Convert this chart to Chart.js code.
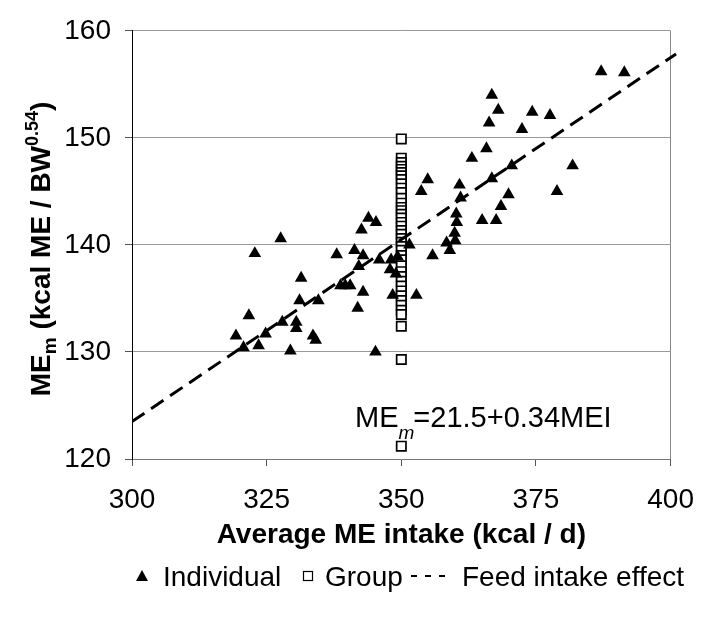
<!DOCTYPE html>
<html>
<head>
<meta charset="utf-8">
<script src="https://cdn.jsdelivr.net/npm/chart.js@4.4.1/dist/chart.umd.min.js"></script>
<style>
  html, body { margin: 0; padding: 0; background: #fff; }
  #wrap { width: 711px; height: 621px; }
</style>
</head>
<body>
<div id="wrap"><canvas id="chart" width="711" height="621"></canvas></div>
<script>
// individual animals: average ME intake (kcal/d) and ME for maintenance
const indivIntake = [
  327.6, 322.8, 338.0, 331.4, 331.1, 334.6, 321.7, 327.9, 330.5, 330.5,
  319.3, 324.8, 333.6, 334.1, 320.7, 323.5, 329.4,
  354.9, 353.7, 343.9, 345.3, 342.6, 341.3, 342.9, 345.9, 351.5, 348.1,
  347.9, 355.8, 342.1, 338.7, 339.6, 340.5, 342.9, 348.4, 352.8, 341.9,
  345.2, 349.3, 349.0,
  366.8, 368.0, 374.3, 377.6, 366.3, 372.4, 365.8, 363.1, 370.5, 381.8,
  366.8, 360.8, 361.0, 369.9, 378.9, 368.5, 360.2, 360.3, 365.0, 367.6,
  359.9, 358.4, 360.0, 359.0, 387.1, 391.4
];
const indivMEm = [
  140.6, 139.2, 139.1, 136.9, 134.8, 134.8, 133.4, 132.8, 132.8, 132.2,
  131.5, 131.7, 131.5, 131.1, 130.4, 130.6, 130.1,
  146.1, 145.0, 142.5, 142.1, 141.4, 139.5, 139.0, 138.6, 140.0, 138.6,
  137.7, 139.0, 138.0, 136.2, 136.2, 136.2, 135.6, 135.3, 135.3, 134.1,
  130.0, 138.9, 137.3,
  154.0, 152.6, 152.4, 152.1, 151.4, 150.8, 149.0, 148.1, 147.4, 147.4,
  146.2, 145.6, 144.4, 144.7, 145.0, 143.6, 142.9, 142.1, 142.3, 142.3,
  141.1, 140.2, 140.4, 139.5, 156.2, 156.1
];

// group estimates, all plotted at the mean intake
const groupIntake = 350;
const groupMEm = [
  149.9, 148.1, 147.7, 147.35, 147.05, 146.75, 146.45, 146.1, 145.7, 145.3,
  144.9, 144.35, 143.9, 143.5, 143.2, 142.85, 142.5, 142.1, 141.75, 141.35,
  141.0, 140.6, 140.25, 139.85, 139.5, 139.0, 138.6, 138.05, 137.5, 137.05,
  136.6, 136.15, 135.7, 135.25, 134.8, 134.35, 133.9, 133.5, 132.4, 129.3,
  121.2
];

// feed intake effect: MEm = 21.5 + 0.34 * MEI
const fitIntercept = 21.5;
const fitSlope = 0.34;
const fitRange = [300, 401];

const xTicks = [300, 325, 350, 375, 400];
const yTicks = [120, 130, 140, 150, 160];

const FONT = 'Arial, "Liberation Sans", sans-serif';

// draws a run of text pieces (sub/superscripts) starting at x on baseline y
function drawRich(ctx, parts, x, y) {
  let cx = x;
  parts.forEach(p => {
    ctx.font = p.font;
    ctx.fillText(p.text, cx, y + (p.dy || 0));
    cx += ctx.measureText(p.text).width + (p.kern || 0);
  });
  return cx - x;
}
function richWidth(ctx, parts) {
  return parts.reduce((s, p) => { ctx.font = p.font; return s + ctx.measureText(p.text).width + (p.kern || 0); }, 0);
}

const textPlugin = {
  id: 'textPlugin',
  afterDraw(chart) {
    const ctx = chart.ctx;
    const area = chart.chartArea;
    ctx.save();
    ctx.fillStyle = '#000';
    ctx.textBaseline = 'alphabetic';
    ctx.textAlign = 'left';

    // y axis title, rotated
    const yParts = [
      { text: 'ME', font: `bold 28px ${FONT}` },
      { text: 'm', font: `bold 19px ${FONT}`, dy: 6 },
      { text: ' (kcal ME / BW', font: `bold 28px ${FONT}` },
      { text: '0.54', font: `bold 18px ${FONT}`, dy: -12 },
      { text: ')', font: `bold 28px ${FONT}` }
    ];
    ctx.save();
    ctx.translate(50, (area.top + area.bottom) / 2 + 4);
    ctx.rotate(-Math.PI / 2);
    drawRich(ctx, yParts, -richWidth(ctx, yParts) / 2, 0);
    ctx.restore();

    // x axis title
    ctx.font = `bold 28px ${FONT}`;
    ctx.textAlign = 'center';
    ctx.fillText('Average ME intake (kcal / d)', (area.left + area.right) / 2, 543);
    ctx.textAlign = 'left';

    // regression equation
    drawRich(ctx, [
      { text: 'ME', font: `29px ${FONT}` },
      { text: 'm', font: `italic 19px ${FONT}`, dy: 12, kern: -1 },
      { text: '=21.5+0.34MEI', font: `29px ${FONT}` }
    ], 355, 427);

    // legend
    const ly = 586;
    const mid = ly - 10;
    ctx.beginPath();
    ctx.moveTo(142, mid - 6);
    ctx.lineTo(148, mid + 5);
    ctx.lineTo(136, mid + 5);
    ctx.closePath();
    ctx.fill();
    ctx.font = `28px ${FONT}`;
    ctx.fillText('Individual', 163, ly);

    ctx.lineWidth = 1.2;
    ctx.strokeStyle = '#000';
    ctx.strokeRect(303.5, mid - 4.5, 9, 9);
    ctx.fillText('Group', 325, ly);

    ctx.lineWidth = 2;
    ctx.setLineDash([6, 8]);
    ctx.beginPath();
    ctx.moveTo(411, mid);
    ctx.lineTo(453, mid);
    ctx.stroke();
    ctx.setLineDash([]);
    ctx.fillText('Feed intake effect', 462, ly);

    ctx.restore();
  }
};

new Chart(document.getElementById('chart'), {
  type: 'scatter',
  data: {
    datasets: [
      {
        label: 'Feed intake effect',
        type: 'line',
        data: fitRange.map(x => ({ x, y: fitIntercept + fitSlope * x })),
        borderColor: '#000',
        borderWidth: 3,
        borderDash: [15, 8],
        pointRadius: 0,
        fill: false,
        clip: { left: 0, top: 0, right: 8, bottom: 0 },
        order: 0
      },
      {
        label: 'Individual',
        data: indivIntake.map((x, i) => ({ x, y: indivMEm[i] })),
        pointStyle: 'triangle',
        pointRadius: 7.3,
        backgroundColor: '#000',
        borderColor: '#000',
        borderWidth: 0,
        order: 1
      },
      {
        label: 'Group',
        data: groupMEm.map(y => ({ x: groupIntake, y })),
        pointStyle: 'rect',
        pointRadius: 6.6,
        backgroundColor: '#fff',
        borderColor: '#000',
        borderWidth: 1.7,
        order: 2
      }
    ]
  },
  options: {
    responsive: false,
    animation: false,
    layout: { padding: { top: 19, right: 30, left: 0, bottom: 0 } },
    plugins: { legend: { display: false }, tooltip: { enabled: false } },
    scales: {
      x: {
        type: 'linear',
        min: 300, max: 400,
        afterBuildTicks: s => { s.ticks = xTicks.map(v => ({ value: v })); },
        afterFit: s => { s.height = 162; },
        ticks: { color: '#000', font: { family: FONT, size: 28 }, padding: 17, maxRotation: 0 },
        grid: {
          color: c => (c.tick && c.tick.value === 400 ? '#888' : 'rgba(0,0,0,0)'),
          tickColor: '#555',
          tickLength: 7,
          lineWidth: 1
        },
        border: { color: '#777', width: 1 }
      },
      y: {
        min: 120, max: 160,
        afterBuildTicks: s => { s.ticks = yTicks.map(v => ({ value: v })); },
        afterFit: s => { s.width = 132; },
        ticks: { color: '#000', font: { family: FONT, size: 28 }, padding: 14 },
        grid: { color: '#999', tickColor: '#555', tickLength: 7, lineWidth: 1 },
        border: { color: '#000', width: 1 }
      }
    }
  },
  plugins: [textPlugin]
});
</script>
</body>
</html>
